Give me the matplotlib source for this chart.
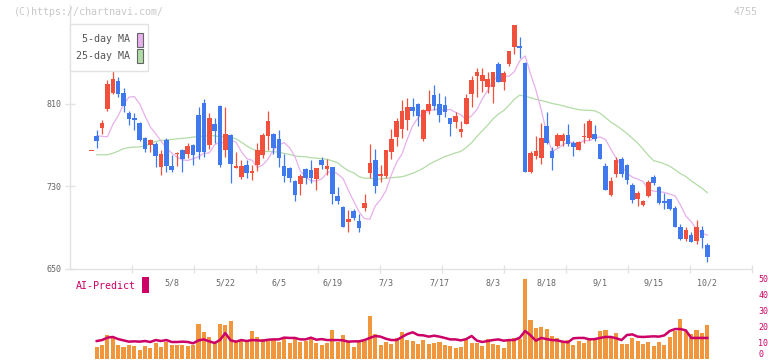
import numpy as np
import pandas as pd
import matplotlib
matplotlib.use("Agg")
import matplotlib.pyplot as plt
from matplotlib.patches import Rectangle
import matplotlib.transforms as mtransforms

# ---------------- data ----------------
opens = [764, 779, 787, 805, 821, 832, 821, 801, 796, 791,
         777, 770, 771, 749, 775, 750, 761, 765, 761, 770,
         799, 811, 770, 790, 808, 765, 780, 748, 739, 751,
         743, 751, 760, 779, 781, 776, 750, 748, 735, 732,
         747, 746, 737, 755, 747, 749, 720, 710, 695, 706,
         696, 709, 743, 755, 740, 740, 763, 778, 786, 794,
         807, 810, 776, 803, 819, 810, 809, 796, 792, 783,
         790, 820, 837, 832, 826, 826, 849, 831, 849, 865,
         866, 850, 744, 759, 757, 788, 764, 769, 774, 780,
         772, 765, 778, 777, 781, 771, 750, 721, 742, 756,
         751, 731, 718, 712, 720, 739, 729, 715, 718, 709,
         690, 679, 683, 677, 687, 673]
highs = [764, 785, 794, 833, 843, 836, 825, 803, 801, 792,
         778, 776, 773, 765, 777, 760, 763, 766, 772, 771,
         807, 815, 801, 796, 809, 807, 781, 763, 755, 755,
         751, 772, 782, 803, 782, 785, 761, 749, 736, 742,
         748, 755, 748, 758, 756, 749, 729, 711, 707, 708,
         703, 722, 771, 766, 751, 765, 786, 796, 814, 816,
         816, 811, 805, 823, 828, 821, 818, 796, 802, 793,
         820, 837, 845, 845, 841, 841, 851, 842, 861, 887,
         875, 851, 764, 779, 791, 802, 768, 782, 782, 790,
         774, 774, 791, 795, 789, 771, 753, 739, 758, 758,
         752, 733, 725, 717, 736, 741, 730, 723, 718, 711,
         693, 690, 685, 697, 691, 675]
lows = [764, 767, 781, 803, 820, 817, 802, 789, 785, 774,
        763, 763, 749, 741, 744, 744, 750, 744, 757, 751,
        756, 758, 766, 772, 749, 758, 733, 748, 737, 738,
        736, 745, 757, 765, 761, 749, 734, 734, 716, 721,
        732, 733, 726, 747, 741, 713, 713, 690, 685, 697,
        685, 706, 738, 723, 734, 738, 756, 769, 777, 785,
        798, 788, 774, 800, 804, 792, 797, 779, 787, 778,
        790, 807, 817, 822, 821, 811, 831, 823, 847, 858,
        855, 744, 743, 756, 752, 771, 746, 768, 769, 769,
        759, 765, 772, 775, 774, 756, 726, 720, 739, 739,
        732, 714, 711, 711, 719, 731, 713, 708, 707, 690,
        678, 677, 676, 674, 670, 656]
closes = [764, 774, 791, 829, 834, 820, 808, 795, 794, 775,
          766, 775, 759, 761, 750, 746, 762, 756, 769, 760,
          763, 763, 796, 784, 751, 781, 752, 750, 750, 743,
          745, 765, 780, 793, 767, 757, 740, 738, 721, 740,
          738, 738, 748, 751, 750, 722, 716, 690, 698, 699,
          689, 714, 753, 730, 742, 765, 776, 793, 803, 807,
          803, 798, 804, 810, 808, 799, 802, 790, 798, 786,
          816, 833, 841, 838, 834, 841, 831, 840, 861, 887,
          864, 744, 762, 764, 777, 772, 757, 780, 780, 771,
          768, 773, 779, 793, 776, 756, 726, 735, 755, 742,
          736, 717, 723, 716, 734, 733, 714, 714, 708, 690,
          679, 687, 676, 690, 680, 661]

volume = [np.nan, 7.4, 8.6, 14.8, 13.6, 8.6, 7.4, 8.6, 8.0, 5.6,
          8.0, 6.8, 9.9, 7.4, 10.5, 8.6, 8.6, 8.6, 8.0, 8.6,
          21.6, 16.7, 13.6, 10.5, 21.6, 21.0, 23.5, 10.5, 11.1, 10.5,
          17.3, 13.6, 12.3, 11.1, 12.3, 10.5, 13.0, 9.9, 13.0, 10.5,
          11.1, 12.3, 9.9, 8.6, 9.9, 17.9, 10.5, 14.8, 11.1, 7.4,
          11.1, 11.1, 26.5, 15.4, 8.6, 10.5, 9.3, 13.0, 16.7, 11.7,
          11.1, 9.3, 11.7, 9.3, 9.9, 10.5, 8.6, 8.0, 6.8, 7.7,
          11.7, 9.9, 9.9, 8.0, 12.3, 9.3, 8.6, 6.8, 11.7, 13.0,
          12.3, 49.4, 24.1, 19.1, 19.8, 18.5, 14.2, 13.0, 11.1, 11.7,
          8.6, 11.1, 9.9, 13.0, 12.3, 17.3, 17.9, 13.0, 16.0, 9.3,
          9.3, 13.0, 11.1, 9.3, 10.5, 8.0, 10.5, 8.6, 13.6, 17.3,
          24.7, 17.3, 15.4, 17.9, 16.0, 21.0]

ai_predict = [np.nan, 11.1, 11.7, 13.2, 13.6, 12.3, 11.5, 10.7, 10.9, 10.7,
              11.1, 10.5, 11.7, 11.1, 11.7, 10.5, 10.5, 10.7, 10.5, 9.7,
              11.5, 12.1, 10.9, 9.9, 11.7, 16.0, 11.5, 10.7, 11.7, 11.1,
              11.7, 11.5, 11.3, 11.9, 12.1, 12.1, 13.2, 13.0, 13.0, 12.1,
              12.1, 13.2, 11.9, 12.3, 11.7, 11.7, 11.7, 11.5, 10.7, 10.9,
              10.9, 11.7, 13.0, 14.2, 13.8, 12.5, 11.7, 11.7, 13.6, 15.4,
              16.5, 14.8, 14.6, 13.8, 14.4, 13.8, 13.0, 12.1, 12.1, 11.5,
              12.3, 14.2, 11.3, 10.5, 11.1, 11.7, 12.1, 11.3, 11.7, 11.7,
              13.2, 17.3, 14.6, 11.3, 13.0, 12.3, 11.7, 11.5, 10.7, 10.3,
              12.8, 13.0, 13.0, 12.1, 12.3, 13.0, 13.6, 13.6, 12.8, 11.7,
              14.8, 15.2, 13.8, 13.6, 13.8, 14.0, 13.8, 14.6, 17.3, 18.5,
              18.5, 17.7, 13.0, 13.0, 13.0, 13.0]

# moving-average values read off the chart where earlier closes are not shown
ma5_head = [779, 778.5, 778, 790]                      # days 1..4
ma25_head = [760.5, 760.5, 760.6, 762, 764, 766.5, 767.5, 768, 768.2, 769,
             771, 773.5, 774.5, 775, 775.4, 776, 776.5, 777, 777.7, 778.3,
             778.6, 778.9, 779]                         # days 1..23

date_labels = ["5/8", "5/22", "6/5", "6/19", "7/3", "7/17", "8/3", "8/18",
               "9/1", "9/15", "10/2"]
date_label_idx = [15, 25, 35, 45, 55, 65, 75, 85, 95, 105, 115]
price_ticks = [650, 730, 810]
vol_ticks = [0, 10, 20, 30, 40, 50]

# ---------------- styling ----------------
UP = "#f0503c"
DOWN = "#4078ee"
MA5_C = "#e8b0ec"
MA25_C = "#b2dca6"
VOL_C = "#f0963c"
AI_C = "#cc0066"
GRID = "#e2e2e2"
TXT = "#666666"
MONO = "DejaVu Sans Mono"

W, H = 772, 361
fig = plt.figure(figsize=(W / 100, H / 100), dpi=100)
fig.patch.set_facecolor("white")


def rect(l, t, r, b):
    return [l / W, 1 - b / H, (r - l) / W, (b - t) / H]


n = len(closes)
idx = np.arange(n)
cs = pd.Series(closes, dtype=float)
ma5 = cs.rolling(5).mean().shift(1).to_numpy()
ma5[0] = np.nan
ma5[1:1 + len(ma5_head)] = ma5_head
ma25 = cs.rolling(25).mean().to_numpy()
ma25[0] = np.nan
ma25[1:1 + len(ma25_head)] = ma25_head

xl = ((70 - 91.4) / 5.355, (752 - 91.4) / 5.355)

# ---------------- price panel ----------------
ax = fig.add_axes(rect(70, 5, 752, 268.5))
ax.set_xlim(*xl)
ax.set_ylim(650, 650 + 263.5 / 1.029)
for s in ("top", "right"):
    ax.spines[s].set_visible(False)
for s in ("left", "bottom"):
    ax.spines[s].set_color(GRID)
    ax.spines[s].set_linewidth(1.0)

ax.plot(idx, ma25, color=MA25_C, lw=0.9, zorder=2)
ax.plot(idx, ma5, color=MA5_C, lw=0.9, zorder=2)

for i in range(n):
    o, h, l, c = opens[i], highs[i], lows[i], closes[i]
    col = UP if c >= o else DOWN
    ax.vlines(i, l, h, color=col, lw=0.9, zorder=3)
    ax.bar(i, max(abs(c - o), 1.2), bottom=min(o, c), width=0.86,
           color=col, linewidth=0, zorder=4)

ax.set_yticks(price_ticks)
ax.set_yticklabels([str(t) for t in price_ticks], family=MONO, fontsize=6,
                   color=TXT)
ax.tick_params(axis="y", direction="inout", length=6.5, color=GRID,
               width=1.0, pad=3)
xt = [(70 + 62 * k - 91.4) / 5.355 for k in range(1, 12)]
ax.set_xticks(xt)
ax.set_xticklabels([])
ax.tick_params(axis="x", direction="inout", length=6, color=GRID, width=1.0)

# date labels
tr = mtransforms.blended_transform_factory(ax.transData, fig.transFigure)
for lab, i in zip(date_labels, date_label_idx):
    ax.text(i, 1 - 282.5 / H, lab, transform=tr, ha="center", va="center",
            family=MONO, fontsize=6, color=TXT, clip_on=False)

# ---------------- volume / AI panel ----------------
axv = fig.add_axes(rect(70, 275, 752, 359))
axv.set_xlim(*xl)
axv.set_ylim(0, 84 / 1.62)
axv.bar(idx, volume, width=0.76, color=VOL_C, linewidth=0, zorder=2)
axv.plot(idx, ai_predict, color=AI_C, lw=1.8, zorder=3)
for s in axv.spines.values():
    s.set_visible(False)
axv.set_xticks([])
axv.yaxis.tick_right()
axv.set_yticks(vol_ticks)
axv.set_yticklabels([str(t) for t in vol_ticks], family=MONO, fontsize=6,
                    color=AI_C)
axv.tick_params(axis="y", length=0, pad=4.5)
# keep the bottom "0" label inside the picture
axv.get_yticklabels()[0].set_va("bottom")
axv.patch.set_alpha(0)

# ---------------- annotations ----------------
fig.text(14 / W, 1 - 12 / H, "(C)https://chartnavi.com/", family=MONO,
         fontsize=7.2, color="#c8c8c8", va="center", ha="left")
fig.text(758 / W, 1 - 12 / H, "4755", family=MONO, fontsize=7.2,
         color="#c8c8c8", va="center", ha="right")

fig.text(76 / W, 1 - 286 / H, "AI-Predict", family=MONO, fontsize=7.2,
         color=AI_C, va="center", ha="left")
fig.add_artist(Rectangle((142 / W, 1 - 293 / H), 7 / W, 16 / H,
                         transform=fig.transFigure, facecolor=AI_C,
                         edgecolor="none", zorder=6))

# legend box
fig.add_artist(Rectangle((70 / W, 1 - 71 / H), 78 / W, 47 / H,
                         transform=fig.transFigure, facecolor="white",
                         edgecolor=GRID, lw=1.0, zorder=6))
for label, col, yc in (("5-day MA", MA5_C, 39.5), ("25-day MA", MA25_C, 56)):
    fig.text(130 / W, 1 - yc / H, label, family=MONO, fontsize=7.2,
             color="#555555", va="center", ha="right", zorder=7)
    fig.add_artist(Rectangle((136.5 / W, 1 - (yc + 7) / H), 6 / W, 14 / H,
                             transform=fig.transFigure, facecolor=col,
                             edgecolor="#666666", lw=0.8, zorder=7))

fig.savefig("out.png", dpi=100)
